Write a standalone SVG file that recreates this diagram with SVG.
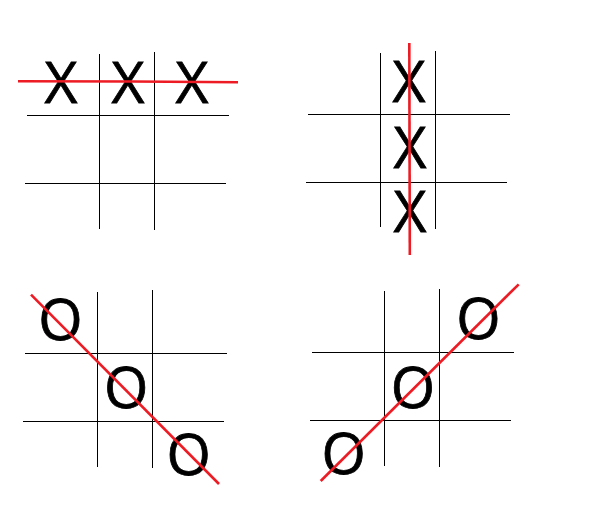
<svg xmlns="http://www.w3.org/2000/svg" width="602" height="528" viewBox="0 0 602 528">
<style>
.grid{stroke:#000;stroke-width:1;fill:none}
.win{stroke:#ed1c24;stroke-width:2.6;fill:none}
.mark{font-family:"Open Sans","Liberation Sans",sans-serif;font-size:57px;fill:#000;stroke:#000;stroke-width:0.8;text-anchor:middle}
</style>
<rect width="602" height="528" fill="#fff"/>
<g id="board-top-left">
<path class="grid" d="M99.5 54V229M154.5 52V230M27 115.5H229M25 183.5H226"/>
<text class="mark" x="61" y="102.5">X</text>
<text class="mark" x="128" y="102.5">X</text>
<text class="mark" x="192" y="102.5">X</text>
<path class="win" d="M18 81.3L133 81.5L238 82.3"/>
</g>
<g id="board-top-right">
<path class="grid" d="M380.5 53V227M435.5 51V229M308 114.5H510M306 182.5H507"/>
<text class="mark" x="409" y="101.7">X</text>
<text class="mark" x="410" y="168.3">X</text>
<text class="mark" x="410" y="232.3">X</text>
<path class="win" d="M409.3 43L409.8 255"/>
</g>
<g id="board-bottom-left">
<path class="grid" d="M97.5 292V467M152.5 290V468M25 353.5H227M23 421.5H224"/>
<text class="mark" x="60.5" y="340.2">O</text>
<text class="mark" x="126.2" y="407.5">O</text>
<text class="mark" x="188.7" y="475.2">O</text>
<path class="win" d="M31 294.7L219 484"/>
</g>
<g id="board-bottom-right">
<path class="grid" d="M384.5 291V466M439.5 289V467M312 352.5H514M310 420.5H511"/>
<text class="mark" x="478.3" y="339.3">O</text>
<text class="mark" x="413" y="407.5">O</text>
<text class="mark" x="343.7" y="474.3">O</text>
<path class="win" d="M320.7 481L518.7 284.3"/>
</g>
</svg>
